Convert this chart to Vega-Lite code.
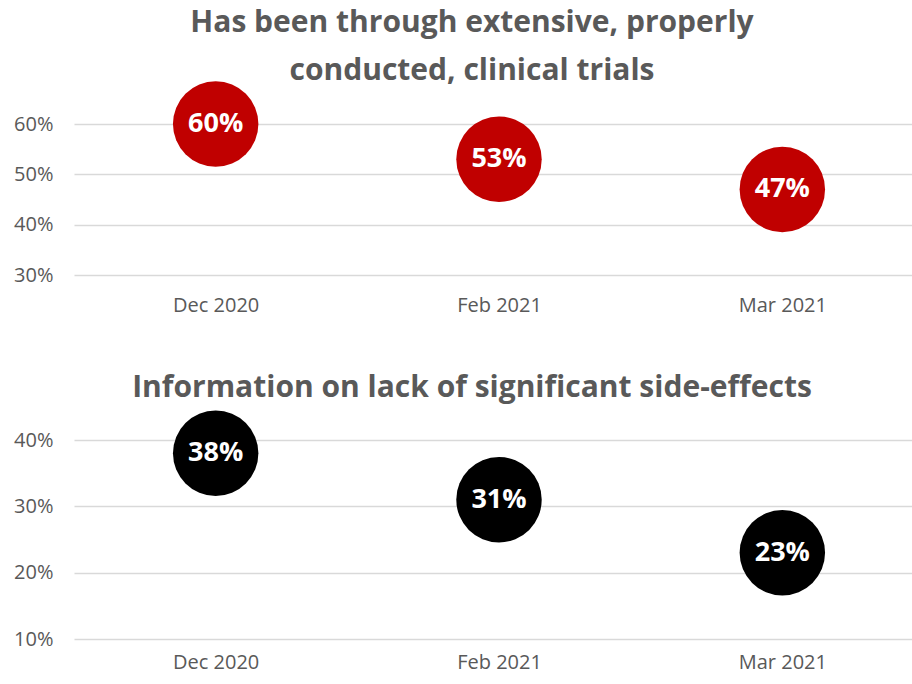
{
  "$schema": "https://vega.github.io/schema/vega-lite/v6.json",
  "padding": {"left": 13, "top": 8, "right": 0, "bottom": 0},
  "background": "white",
  "spacing": 57,
  "config": {
    "view": {"stroke": null},
    "font": "Open Sans",
    "title": {"font": "Open Sans", "fontWeight": "bold", "fontSize": 30, "color": "#595959", "anchor": "middle", "lineHeight": 48},
    "axis": {"labelFont": "Open Sans", "labelFontSize": 20, "labelColor": "#595959", "domain": false, "ticks": false, "title": null, "gridColor": "#d9d9d9", "gridWidth": 1.5}
  },
  "datasets": {
    "trials": [
      {"month": "Dec 2020", "value": 0.60, "label": "60%"},
      {"month": "Feb 2021", "value": 0.53, "label": "53%"},
      {"month": "Mar 2021", "value": 0.47, "label": "47%"}
    ],
    "sideeffects": [
      {"month": "Dec 2020", "value": 0.38, "label": "38%"},
      {"month": "Feb 2021", "value": 0.31, "label": "31%"},
      {"month": "Mar 2021", "value": 0.23, "label": "23%"}
    ]
  },
  "vconcat": [
    {
      "title": {"text": ["Has been through extensive, properly", "conducted, clinical trials"], "offset": -5, "dx": -20},
      "width": 836,
      "height": 151,
      "data": {"name": "trials"},
      "encoding": {
        "x": {"field": "month", "type": "ordinal", "sort": null, "scale": {"paddingInner": 0, "paddingOuter": 0, "range": [0, 850]}, "axis": {"labelAngle": 0, "grid": false, "labelPadding": 20}},
        "y": {"field": "value", "type": "quantitative", "scale": {"domain": [0.3, 0.6], "nice": false, "zero": false}, "axis": {"values": [0.3, 0.4, 0.5, 0.6], "format": ".0%", "labelPadding": 21}}
      },
      "layer": [
        {"mark": {"type": "point", "filled": true, "size": 7300, "color": "#c00000", "opacity": 1}},
        {"mark": {"type": "text", "color": "white", "fontWeight": "bold", "fontSize": 27, "font": "Open Sans"}, "encoding": {"text": {"field": "label"}}}
      ]
    },
    {
      "title": {"text": "Information on lack of significant side-effects", "offset": 8, "dx": -20},
      "width": 836,
      "height": 199,
      "data": {"name": "sideeffects"},
      "encoding": {
        "x": {"field": "month", "type": "ordinal", "sort": null, "scale": {"paddingInner": 0, "paddingOuter": 0, "range": [0, 850]}, "axis": {"labelAngle": 0, "grid": false, "labelPadding": 13}},
        "y": {"field": "value", "type": "quantitative", "scale": {"domain": [0.1, 0.4], "nice": false, "zero": false}, "axis": {"values": [0.1, 0.2, 0.3, 0.4], "format": ".0%", "labelPadding": 21}}
      },
      "layer": [
        {"mark": {"type": "point", "filled": true, "size": 7300, "color": "#000000", "opacity": 1}},
        {"mark": {"type": "text", "color": "white", "fontWeight": "bold", "fontSize": 27, "font": "Open Sans"}, "encoding": {"text": {"field": "label"}}}
      ]
    }
  ]
}
